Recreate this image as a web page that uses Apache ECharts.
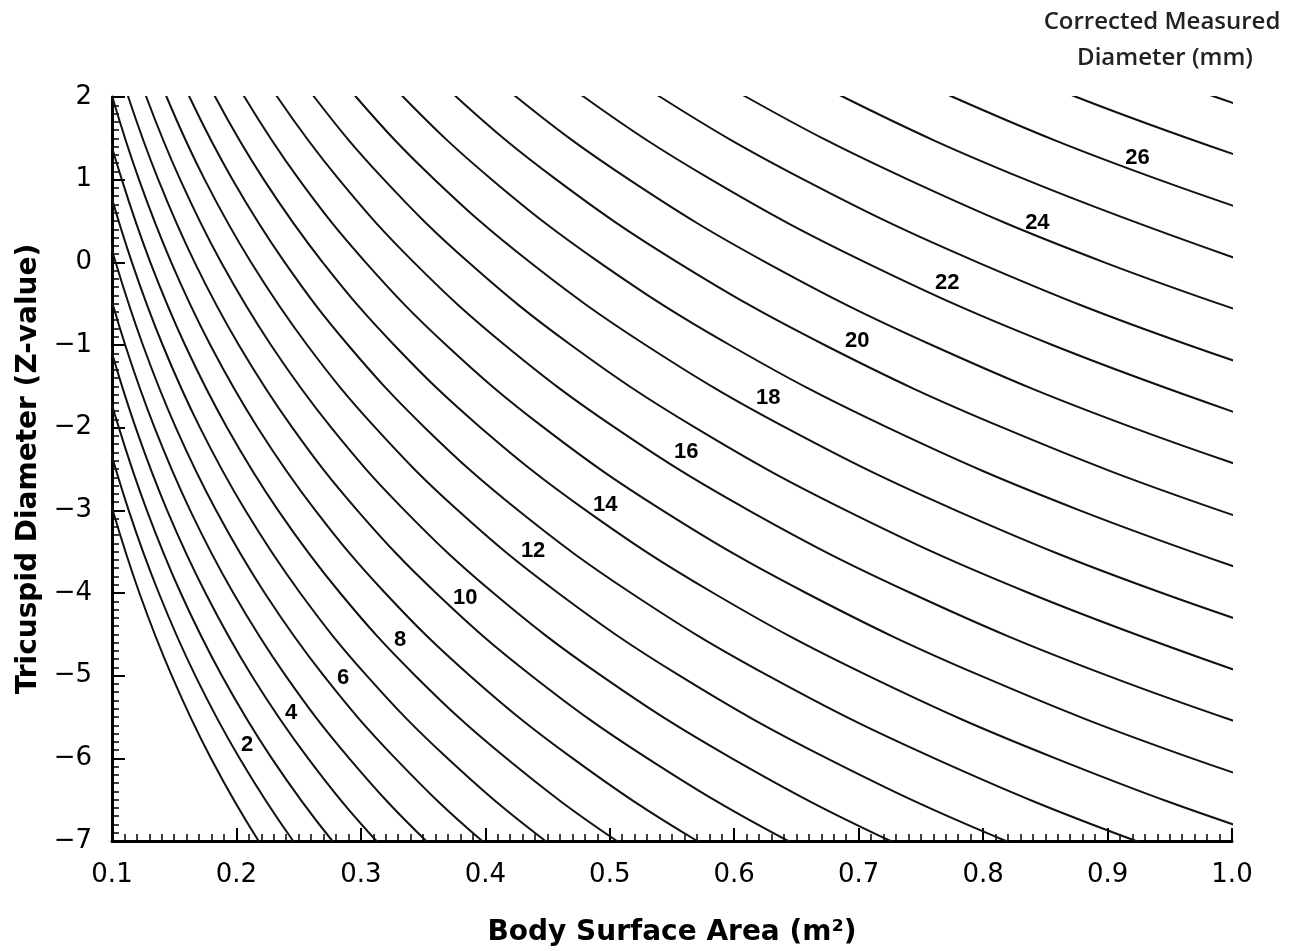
<!DOCTYPE html>
<html>
<head>
<meta charset="utf-8">
<title>Tricuspid Diameter Z-value nomogram</title>
<script src="https://cdn.jsdelivr.net/npm/echarts@6/dist/echarts.min.js"></script>
<style>
  html, body { margin: 0; padding: 0; background: #ffffff; }
  #chart { width: 1297px; height: 951px; }
</style>
</head>
<body>
<div id="chart"></div>
<script>
// Z-value levels at which each iso-diameter curve is sampled
const zLevels = [3, 2, 1, 0, -1, -2, -3, -4, -5, -6, -7, -8];

// Corrected measured diameters (mm), one curve each
const diameters = [1, 2, 3, 4, 5, 6, 7, 8, 9, 10, 11, 12, 13, 14,
                   15, 16, 17, 18, 19, 20, 21, 22, 23, 24, 25, 26, 27, 28];

// Body surface area (m2) where each diameter curve crosses the Z levels above
const bsaD1  = [null, null, null, null, null, 0.0829, 0.1006, 0.1220, 0.1480, 0.1795, 0.2178, 0.2642];
const bsaD2  = [null, null, null, null, 0.0771, 0.0935, 0.1134, 0.1376, 0.1669, 0.2025, 0.2456, 0.2980];
const bsaD3  = [null, null, null, 0.0717, 0.0870, 0.1055, 0.1280, 0.1552, 0.1883, 0.2284, 0.2771, 0.3361];
const bsaD4  = [null, null, 0.0667, 0.0808, 0.0981, 0.1190, 0.1443, 0.1751, 0.2123, 0.2576, 0.3125, 0.3790];
const bsaD5  = [null, null, 0.0752, 0.0912, 0.1106, 0.1342, 0.1628, 0.1975, 0.2395, 0.2906, 0.3525, 0.4275];
const bsaD6  = [null, 0.0699, 0.0848, 0.1029, 0.1248, 0.1513, 0.1836, 0.2227, 0.2701, 0.3277, 0.3975, 0.4822];
const bsaD7  = [null, 0.0788, 0.0956, 0.1160, 0.1407, 0.1707, 0.2071, 0.2512, 0.3047, 0.3696, 0.4483, 0.5439];
const bsaD8  = [0.0733, 0.0889, 0.1079, 0.1308, 0.1587, 0.1925, 0.2335, 0.2833, 0.3437, 0.4169, 0.5057, 0.6134];
const bsaD9  = [0.0827, 0.1003, 0.1217, 0.1476, 0.1790, 0.2171, 0.2634, 0.3195, 0.3876, 0.4702, 0.5703, 0.6919];
const bsaD10 = [0.0932, 0.1131, 0.1372, 0.1664, 0.2019, 0.2449, 0.2971, 0.3604, 0.4371, 0.5303, 0.6433, 0.7803];
const bsaD11 = [0.1052, 0.1276, 0.1548, 0.1877, 0.2277, 0.2762, 0.3351, 0.4065, 0.4931, 0.5981, 0.7256, 0.8801];
const bsaD12 = [0.1186, 0.1439, 0.1745, 0.2117, 0.2568, 0.3116, 0.3779, 0.4585, 0.5561, 0.6746, 0.8183, 0.9927];
const bsaD13 = [0.1338, 0.1623, 0.1969, 0.2388, 0.2897, 0.3514, 0.4263, 0.5171, 0.6272, 0.7609, 0.9230, 1.1196];
const bsaD14 = [0.1509, 0.1830, 0.2220, 0.2693, 0.3267, 0.3963, 0.4808, 0.5832, 0.7074, 0.8582, 1.0410, 1.2628];
const bsaD15 = [0.1702, 0.2065, 0.2504, 0.3038, 0.3685, 0.4470, 0.5423, 0.6578, 0.7979, 0.9679, 1.1742, null];
const bsaD16 = [0.1920, 0.2329, 0.2825, 0.3426, 0.4156, 0.5042, 0.6116, 0.7419, 0.9000, 1.0917, null, null];
const bsaD17 = [0.2165, 0.2626, 0.3186, 0.3865, 0.4688, 0.5687, 0.6898, 0.8368, 1.0151, null, null, null];
const bsaD18 = [0.2442, 0.2962, 0.3593, 0.4359, 0.5288, 0.6414, 0.7780, 0.9438, 1.1449, null, null, null];
const bsaD19 = [0.2754, 0.3341, 0.4053, 0.4916, 0.5964, 0.7234, 0.8776, 1.0645, null, null, null, null];
const bsaD20 = [0.3106, 0.3768, 0.4571, 0.5545, 0.6726, 0.8159, 0.9898, 1.2006, null, null, null, null];
const bsaD21 = [0.3504, 0.4250, 0.5156, 0.6254, 0.7587, 0.9203, 1.1164, null, null, null, null, null];
const bsaD22 = [0.3952, 0.4794, 0.5815, 0.7054, 0.8557, 1.0380, null, null, null, null, null, null];
const bsaD23 = [0.4457, 0.5407, 0.6559, 0.7956, 0.9651, 1.1707, null, null, null, null, null, null];
const bsaD24 = [0.5027, 0.6098, 0.7398, 0.8974, 1.0886, null, null, null, null, null, null, null];
const bsaD25 = [0.5670, 0.6878, 0.8343, 1.0121, null, null, null, null, null, null, null, null];
const bsaD26 = [0.6395, 0.7758, 0.9411, 1.1415, null, null, null, null, null, null, null, null];
const bsaD27 = [0.7213, 0.8750, 1.0614, null, null, null, null, null, null, null, null, null];
const bsaD28 = [0.8136, 0.9869, 1.1971, null, null, null, null, null, null, null, null, null];

const bsaByDiameter = [bsaD1, bsaD2, bsaD3, bsaD4, bsaD5, bsaD6, bsaD7, bsaD8, bsaD9, bsaD10,
                       bsaD11, bsaD12, bsaD13, bsaD14, bsaD15, bsaD16, bsaD17, bsaD18, bsaD19, bsaD20,
                       bsaD21, bsaD22, bsaD23, bsaD24, bsaD25, bsaD26, bsaD27, bsaD28];

// In-plot diameter labels (every second curve) and their anchor positions
const labelDiameters = [2, 4, 6, 8, 10, 12, 14, 16, 18, 20, 22, 24, 26];
const labelBsa = [0.2085, 0.2439, 0.2857, 0.3315, 0.3838, 0.4384, 0.4963, 0.5614, 0.6273, 0.6989, 0.7712, 0.8436, 0.9240];
const labelZ   = [-5.84, -5.45, -5.03, -4.57, -4.06, -3.49, -2.94, -2.29, -1.64, -0.95, -0.25, 0.48, 1.26];

// Axis extents and titles
const xMin = 0.1, xMax = 1.0, xStep = 0.1;
const yMin = -7, yMax = 2, yStep = 1;
const xTitle = 'Body Surface Area (m\u00B2)';
const yTitle = 'Tricuspid Diameter (Z-value)';
const legendTitle = ['Corrected Measured', 'Diameter (mm)'];

const INK = '#000000';
const TICK_FONT = 'DejaVu Sans';
const TITLE_FONT = 'DejaVu Sans';

const curveSeries = diameters.map((d, i) => ({
  name: d + ' mm',
  type: 'line',
  data: zLevels.map((z, j) => [bsaByDiameter[i][j], z]).filter(p => p[0] !== null),
  showSymbol: false,
  symbol: 'none',
  smooth: 0.4,
  clip: true,
  silent: true,
  lineStyle: { color: '#111111', width: 2 },
  z: 2
}));

const labelSeries = {
  type: 'scatter',
  data: labelDiameters.map((d, i) => [labelBsa[i], labelZ[i], d]),
  symbol: 'circle',
  symbolSize: 1,
  itemStyle: { color: 'rgba(0,0,0,0)', opacity: 1 },
  silent: true,
  z: 5,
  label: {
    show: true,
    position: 'inside',
    formatter: p => String(p.value[2]),
    color: INK,
    opacity: 1,
    fontSize: 22,
    fontWeight: 'bold',
    fontFamily: 'Liberation Sans'
  }
};

const chart = echarts.init(document.getElementById('chart'), null, { renderer: 'canvas' });

const axisCommon = {
  type: 'value',
  splitLine: { show: false },
  minorSplitLine: { show: false },
  axisLine: { show: true, onZero: false, lineStyle: { color: '#000', width: 3 } },
  axisTick: { show: true, inside: true, length: 13, lineStyle: { color: '#000', width: 2 } },
  minorTick: { show: true, splitNumber: 10, length: 7, lineStyle: { color: '#000', width: 1.5 } }
};

chart.setOption({
  animation: false,
  backgroundColor: '#ffffff',
  grid: { left: 112, right: 65, top: 97, bottom: 110, containLabel: false, outerBoundsMode: 'none' },
  xAxis: Object.assign({}, axisCommon, {
    min: xMin, max: xMax, interval: xStep,
    name: xTitle,
    nameLocation: 'middle',
    nameGap: 78,
    nameTextStyle: { color: INK, fontSize: 28, fontWeight: 'bold', fontFamily: TITLE_FONT },
    axisLabel: {
      color: INK, fontSize: 26, fontFamily: TICK_FONT, margin: 21,
      formatter: v => Number(v).toFixed(1)
    }
  }),
  yAxis: Object.assign({}, axisCommon, {
    min: yMin, max: yMax, interval: yStep,
    name: yTitle,
    nameLocation: 'middle',
    nameRotate: 90,
    nameGap: 66,
    nameTextStyle: { color: INK, fontSize: 28, fontWeight: 'bold', fontFamily: TITLE_FONT },
    axisLabel: {
      color: INK, fontSize: 26, fontFamily: TICK_FONT, margin: 20,
      formatter: v => (v < 0 ? '\u2212' + Math.abs(v) : String(v))
    }
  }),
  graphic: [
    {
      type: 'text', x: 1162, y: 22,
      style: { text: legendTitle[0], fill: '#222', font: '600 24px "Open Sans"', textAlign: 'center', textVerticalAlign: 'middle' }
    },
    {
      type: 'text', x: 1165, y: 58,
      style: { text: legendTitle[1], fill: '#222', font: '600 24px "Open Sans"', textAlign: 'center', textVerticalAlign: 'middle' }
    }
  ],
  series: curveSeries.concat([labelSeries])
});
</script>
</body>
</html>
